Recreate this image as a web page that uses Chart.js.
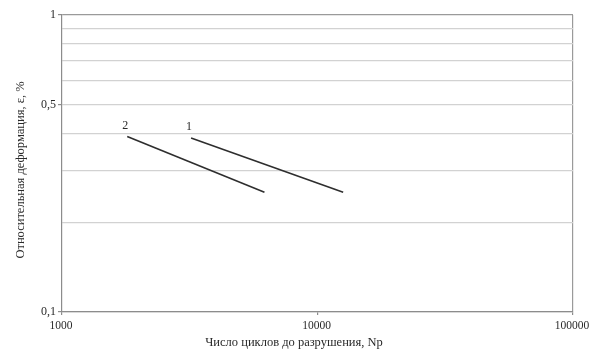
<!DOCTYPE html>
<html>
<head>
<meta charset="utf-8">
<script src="https://cdn.jsdelivr.net/npm/chart.js@4"></script>
<style>
  body { margin: 0; background: #fff; }
</style>
</head>
<body>
<canvas id="chart" width="590" height="354"></canvas>
<script>
// curve 1 and curve 2: cycles to failure vs relative strain
const cycles1 = [3200, 12600];
const strain1 = [0.385, 0.253];
const cycles2 = [1800, 6200];
const strain2 = [0.39, 0.253];
const curveNames = ["1", "2"];

const yGridValues = [0.1, 0.2, 0.3, 0.4, 0.5, 0.6, 0.7, 0.8, 0.9, 1];
const yLabelled = { 0.1: "0,1", 0.5: "0,5", 1: "1" };
const xTickValues = [1000, 10000, 100000];

const xTitle = "Число циклов до разрушения, Nр";
const yTitle = "Относительная деформация, ε, %";

const serif = "'Liberation Serif', 'DejaVu Serif', serif";
const textColor = "#2a2a2a";

const toPoints = (xs, ys) => xs.map((x, i) => ({ x: x, y: ys[i] }));

// curve numbers above the first point of each line, plus the axis titles
const annotations = {
  id: "annotations",
  afterDatasetsDraw(chart) {
    const ctx = chart.ctx;
    ctx.save();
    ctx.fillStyle = textColor;
    ctx.textAlign = "center";
    ctx.textBaseline = "middle";
    ctx.font = "12px " + serif;
    chart.data.datasets.forEach((ds, i) => {
      const pt = chart.getDatasetMeta(i).data[0];
      ctx.fillText(ds.label, pt.x - 2, pt.y - 11);
    });
    ctx.font = "12.5px " + serif;
    ctx.fillText(xTitle, 294, 343);
    ctx.translate(21, 170);
    ctx.rotate(-Math.PI / 2);
    ctx.fillText(yTitle, 0, 0);
    ctx.restore();
  }
};

new Chart(document.getElementById("chart"), {
  type: "line",
  data: {
    datasets: [
      {
        label: curveNames[0],
        data: toPoints(cycles1, strain1),
        borderColor: "#2e2e2e",
        borderWidth: 1.6,
        pointRadius: 0
      },
      {
        label: curveNames[1],
        data: toPoints(cycles2, strain2),
        borderColor: "#2e2e2e",
        borderWidth: 1.6,
        pointRadius: 0
      }
    ]
  },
  options: {
    responsive: false,
    animation: false,
    layout: { padding: { top: 15, right: 17, left: 0, bottom: 0 } },
    plugins: {
      legend: { display: false },
      tooltip: { enabled: false }
    },
    scales: {
      x: {
        type: "logarithmic",
        min: 1000,
        max: 100000,
        afterBuildTicks: (scale) => {
          scale.ticks = xTickValues.map((v) => ({ value: v }));
        },
        afterFit: (scale) => {
          scale.height = 42;
          scale.paddingLeft = 0;
          scale.paddingRight = 0;
        },
        border: { color: "#8c8c8c", width: 1.2 },
        grid: {
          drawOnChartArea: true,
          color: (c) => (c.tick && c.tick.value === 100000 ? "#9a9a9a" : "rgba(0,0,0,0)"),
          lineWidth: 1.2,
          tickLength: 3,
          tickColor: "#8c8c8c"
        },
        ticks: {
          autoSkip: false,
          maxRotation: 0,
          color: textColor,
          font: { family: serif, size: 11.5 },
          padding: 4,
          labelOffset: -1,
          callback: (v) => String(v)
        }
      },
      y: {
        type: "logarithmic",
        min: 0.1,
        max: 1,
        afterBuildTicks: (scale) => {
          scale.ticks = yGridValues.map((v) => ({ value: v }));
        },
        afterFit: (scale) => {
          scale.width = 62;
          scale.paddingTop = 0;
          scale.paddingBottom = 0;
        },
        border: { color: "#8c8c8c", width: 1.2 },
        grid: {
          color: (c) => (c.tick && c.tick.value === 1 ? "#9a9a9a" : "#d2d2d2"),
          lineWidth: 1.2,
          tickLength: 4,
          tickColor: (c) => (c.tick && yLabelled[c.tick.value] ? "#8c8c8c" : "rgba(0,0,0,0)")
        },
        ticks: {
          autoSkip: false,
          color: textColor,
          font: { family: serif, size: 12 },
          padding: 2,
          callback: (v) => yLabelled[v] || ""
        }
      }
    }
  },
  plugins: [annotations]
});
</script>
</body>
</html>
